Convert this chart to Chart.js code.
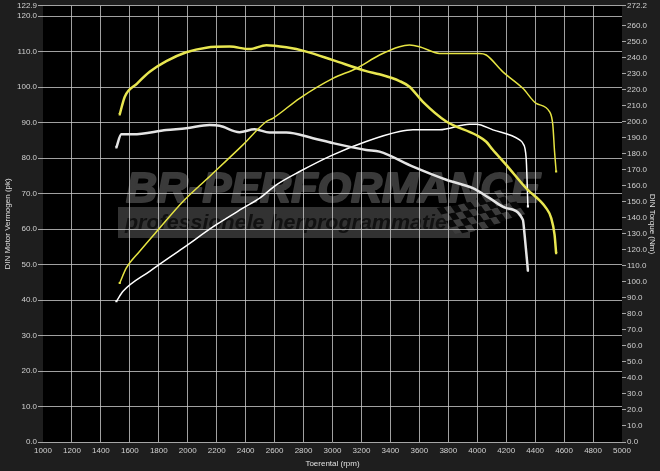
<!DOCTYPE html>
<html lang="nl">
<head>
    <meta charset="UTF-8">
    <title>Vermogensmeting</title>
    <script src="https://cdn.jsdelivr.net/npm/chart.js"></script>
    <style>
        body { margin: 0; background-color: #1e1e1e; }
        canvas { display: block; }
    </style>
</head>
<body>
    <canvas id="dynoChart" width="660" height="471"></canvas>

    <script>
        // Getuned vermogen (pk) - geel, dik
        const tunedPowerRpm = [1530, 1565, 1650, 1737, 1852, 1990, 2128, 2289, 2427, 2543, 2681, 2819, 3003, 3233, 3325, 3463, 3532, 3623, 3786, 3993, 4062, 4106, 4200, 4338, 4476, 4511, 4534, 4545];
        const tunedPowerPk  = [92.3, 97.3, 101.0, 104.3, 107.3, 109.8, 111.1, 111.4, 110.7, 111.8, 111.2, 110.0, 107.6, 104.5, 103.6, 101.7, 100.1, 95.9, 90.3, 86.5, 84.6, 82.4, 78.1, 71.5, 65.9, 63.1, 58.4, 53.2];

        // Getuned koppel (Nm) - geel, dun
        const tunedTorqueRpm = [1530, 1576, 1668, 1806, 1967, 2151, 2381, 2543, 2588, 2773, 3003, 3164, 3325, 3463, 3532, 3601, 3739, 4015, 4062, 4177, 4315, 4407, 4499, 4522, 4534, 4545];
        const tunedTorqueNm  = [99.2, 108.6, 119.0, 133.5, 150.1, 165.7, 185.4, 200.0, 202.0, 214.5, 226.9, 233.1, 241.5, 246.7, 247.7, 246.7, 242.5, 242.5, 241.5, 231.0, 220.7, 211.3, 206.2, 197.9, 181.3, 168.8];

        // Standaard vermogen (pk) - wit, dik
        const stockPowerRpm = [1507, 1541, 1622, 1852, 1990, 2151, 2220, 2358, 2462, 2565, 2681, 2865, 3003, 3233, 3325, 3556, 3786, 3970, 4085, 4200, 4315, 4327, 4350];
        const stockPowerPk  = [83.0, 86.7, 86.7, 87.9, 88.4, 89.3, 89.1, 87.3, 88.1, 87.2, 87.2, 85.6, 84.2, 82.3, 81.8, 77.6, 73.9, 71.5, 68.7, 65.9, 62.6, 58.4, 48.3];

        // Standaard koppel (Nm) - wit, dun
        const stockTorqueRpm = [1507, 1553, 1737, 1967, 2197, 2381, 2497, 2612, 2773, 3003, 3233, 3463, 3556, 3739, 3947, 3993, 4108, 4293, 4315, 4338, 4350];
        const stockTorqueNm  = [87.8, 94.0, 106.5, 121.0, 135.6, 145.9, 152.2, 160.5, 168.8, 179.2, 187.5, 193.7, 194.8, 194.8, 198.3, 198.3, 194.8, 188.5, 186.4, 177.1, 147.0];

        // Asverdeling
        const powerTicks  = [0, 10, 20, 30, 40, 50, 60, 70, 80, 90, 100, 110, 120, 122.9];
        const torqueTicks = [0, 10, 20, 30, 40, 50, 60, 70, 80, 90, 100, 110, 120, 130, 140, 150, 160, 170, 180, 190, 200, 210, 220, 230, 240, 250, 260, 272.2];

        const toPoints = (xs, ys) => xs.map((x, i) => ({ x: x, y: ys[i] }));
        const endDots = ctx => (ctx.dataIndex === 0 || ctx.dataIndex === ctx.dataset.data.length - 1) ? 1.5 : 0;

        const gridColor = 'rgba(200, 200, 200, 0.8)';
        const font = { family: '"Liberation Sans", Arial, sans-serif', size: 8 };

        // achtergrond en watermerk
        const background = {
            id: 'background',
            beforeDraw(chart) {
                const { ctx, chartArea: a } = chart;
                ctx.save();
                ctx.fillStyle = '#1e1e1e';
                ctx.fillRect(0, 0, chart.width, chart.height);
                ctx.fillStyle = '#000';
                ctx.fillRect(a.left, a.top, a.right - a.left, a.bottom - a.top);

                // grijze balk
                ctx.fillStyle = '#323232';
                ctx.fillRect(118, 207, 352, 31);

                // BR-PERFORMANCE
                ctx.font = 'italic bold 42px "Liberation Sans", Arial, sans-serif';
                ctx.fillStyle = '#3a3a3a';
                ctx.strokeStyle = '#3a3a3a';
                ctx.lineWidth = 2;
                ctx.lineJoin = 'round';
                const big = 'BR-PERFORMANCE';
                let w = ctx.measureText(big).width;
                ctx.save();
                ctx.translate(126, 202);
                ctx.scale(414 / w, 1);
                ctx.fillText(big, 0, 0);
                ctx.strokeText(big, 0, 0);
                ctx.restore();

                // ondertitel
                ctx.font = 'italic bold 20px "Liberation Sans", Arial, sans-serif';
                ctx.fillStyle = '#111';
                const sub = 'professionele herprogrammatie';
                w = ctx.measureText(sub).width;
                ctx.save();
                ctx.translate(125, 229);
                ctx.scale(322 / w, 1);
                ctx.fillText(sub, 0, 0);
                ctx.restore();

                // geblokte vlag
                ctx.save();
                ctx.translate(455, 234);
                ctx.transform(1, -0.25, 0.7, 1, 0, 0);
                const cell = 6.5;
                for (let c = 0; c < 11; c++) {
                    for (let r = 0; r < 4; r++) {
                        const wave = Math.sin(c * 0.5) * 2;
                        ctx.fillStyle = (c + r) % 2 === 0 ? '#3c3c3c' : '#080808';
                        ctx.fillRect(c * cell, -r * cell + wave - cell, cell, cell);
                    }
                }
                ctx.restore();
                ctx.restore();
            }
        };

        const ctx = document.getElementById('dynoChart').getContext('2d');

        const dynoChart = new Chart(ctx, {
            type: 'line',
            data: {
                datasets: [
                    {
                        label: 'Vermogen getuned',
                        data: toPoints(tunedPowerRpm, tunedPowerPk),
                        yAxisID: 'yPower',
                        borderColor: '#e8e650',
                        borderWidth: 2.5,
                        pointRadius: endDots,
                        pointStyle: 'rect',
                        pointBackgroundColor: '#e8e650',
                        pointBorderWidth: 0,
                        cubicInterpolationMode: 'monotone'
                    },
                    {
                        label: 'Koppel getuned',
                        data: toPoints(tunedTorqueRpm, tunedTorqueNm),
                        yAxisID: 'yTorque',
                        borderColor: '#e6e442',
                        borderWidth: 1.5,
                        pointRadius: endDots,
                        pointStyle: 'rect',
                        pointBackgroundColor: '#e6e442',
                        pointBorderWidth: 0,
                        cubicInterpolationMode: 'monotone'
                    },
                    {
                        label: 'Vermogen standaard',
                        data: toPoints(stockPowerRpm, stockPowerPk),
                        yAxisID: 'yPower',
                        borderColor: '#e4e4e4',
                        borderWidth: 2.5,
                        pointRadius: endDots,
                        pointStyle: 'rect',
                        pointBackgroundColor: '#e4e4e4',
                        pointBorderWidth: 0,
                        cubicInterpolationMode: 'monotone'
                    },
                    {
                        label: 'Koppel standaard',
                        data: toPoints(stockTorqueRpm, stockTorqueNm),
                        yAxisID: 'yTorque',
                        borderColor: '#ffffff',
                        borderWidth: 1.5,
                        pointRadius: endDots,
                        pointStyle: 'rect',
                        pointBackgroundColor: '#ffffff',
                        pointBorderWidth: 0,
                        cubicInterpolationMode: 'monotone'
                    }
                ]
            },
            options: {
                responsive: false,
                animation: false,
                layout: { padding: { top: 4 } },
                plugins: {
                    legend: { display: false },
                    tooltip: { enabled: false }
                },
                scales: {
                    x: {
                        type: 'linear',
                        min: 1000,
                        max: 5000,
                        ticks: {
                            stepSize: 200,
                            autoSkip: false,
                            maxRotation: 0,
                            padding: 4,
                            color: '#d0d0d0',
                            font: font,
                            callback: v => String(v)
                        },
                        grid: {
                            color: c => (c.tick && (c.tick.value === 1000 || c.tick.value === 5000)) ? 'transparent' : gridColor,
                            lineWidth: 1,
                            drawTicks: false
                        },
                        border: { display: false },
                        title: { display: true, text: 'Toerental (rpm)', color: '#e0e0e0', font: font, padding: { top: 0, bottom: 2 } },
                        afterFit: s => { s.height = 29; }
                    },
                    yPower: {
                        position: 'left',
                        min: 0,
                        max: 122.9,
                        afterBuildTicks: s => { s.ticks = powerTicks.map(v => ({ value: v })); },
                        ticks: {
                            callback: v => v.toFixed(1),
                            padding: 1,
                            color: '#d0d0d0',
                            font: font
                        },
                        grid: {
                            color: gridColor,
                            lineWidth: 1,
                            tickLength: 5
                        },
                        border: { display: false },
                        title: { display: true, text: 'DIN Motor Vermogen (pk)', color: '#e0e0e0', font: font, padding: { top: 3, bottom: 0 } },
                        afterFit: s => { s.width = 43; }
                    },
                    yTorque: {
                        position: 'right',
                        min: 0,
                        max: 272.2,
                        afterBuildTicks: s => { s.ticks = torqueTicks.map(v => ({ value: v })); },
                        ticks: {
                            callback: v => v.toFixed(1),
                            padding: 1,
                            color: '#d0d0d0',
                            font: font
                        },
                        grid: {
                            color: gridColor,
                            lineWidth: 1,
                            tickLength: 4,
                            drawOnChartArea: false
                        },
                        border: { display: false },
                        title: { display: true, text: 'DIN Torque (Nm)', color: '#e0e0e0', font: font, padding: { top: 3, bottom: 0 } },
                        afterFit: s => { s.width = 38; }
                    }
                }
            },
            plugins: [background]
        });
    </script>
</body>
</html>
